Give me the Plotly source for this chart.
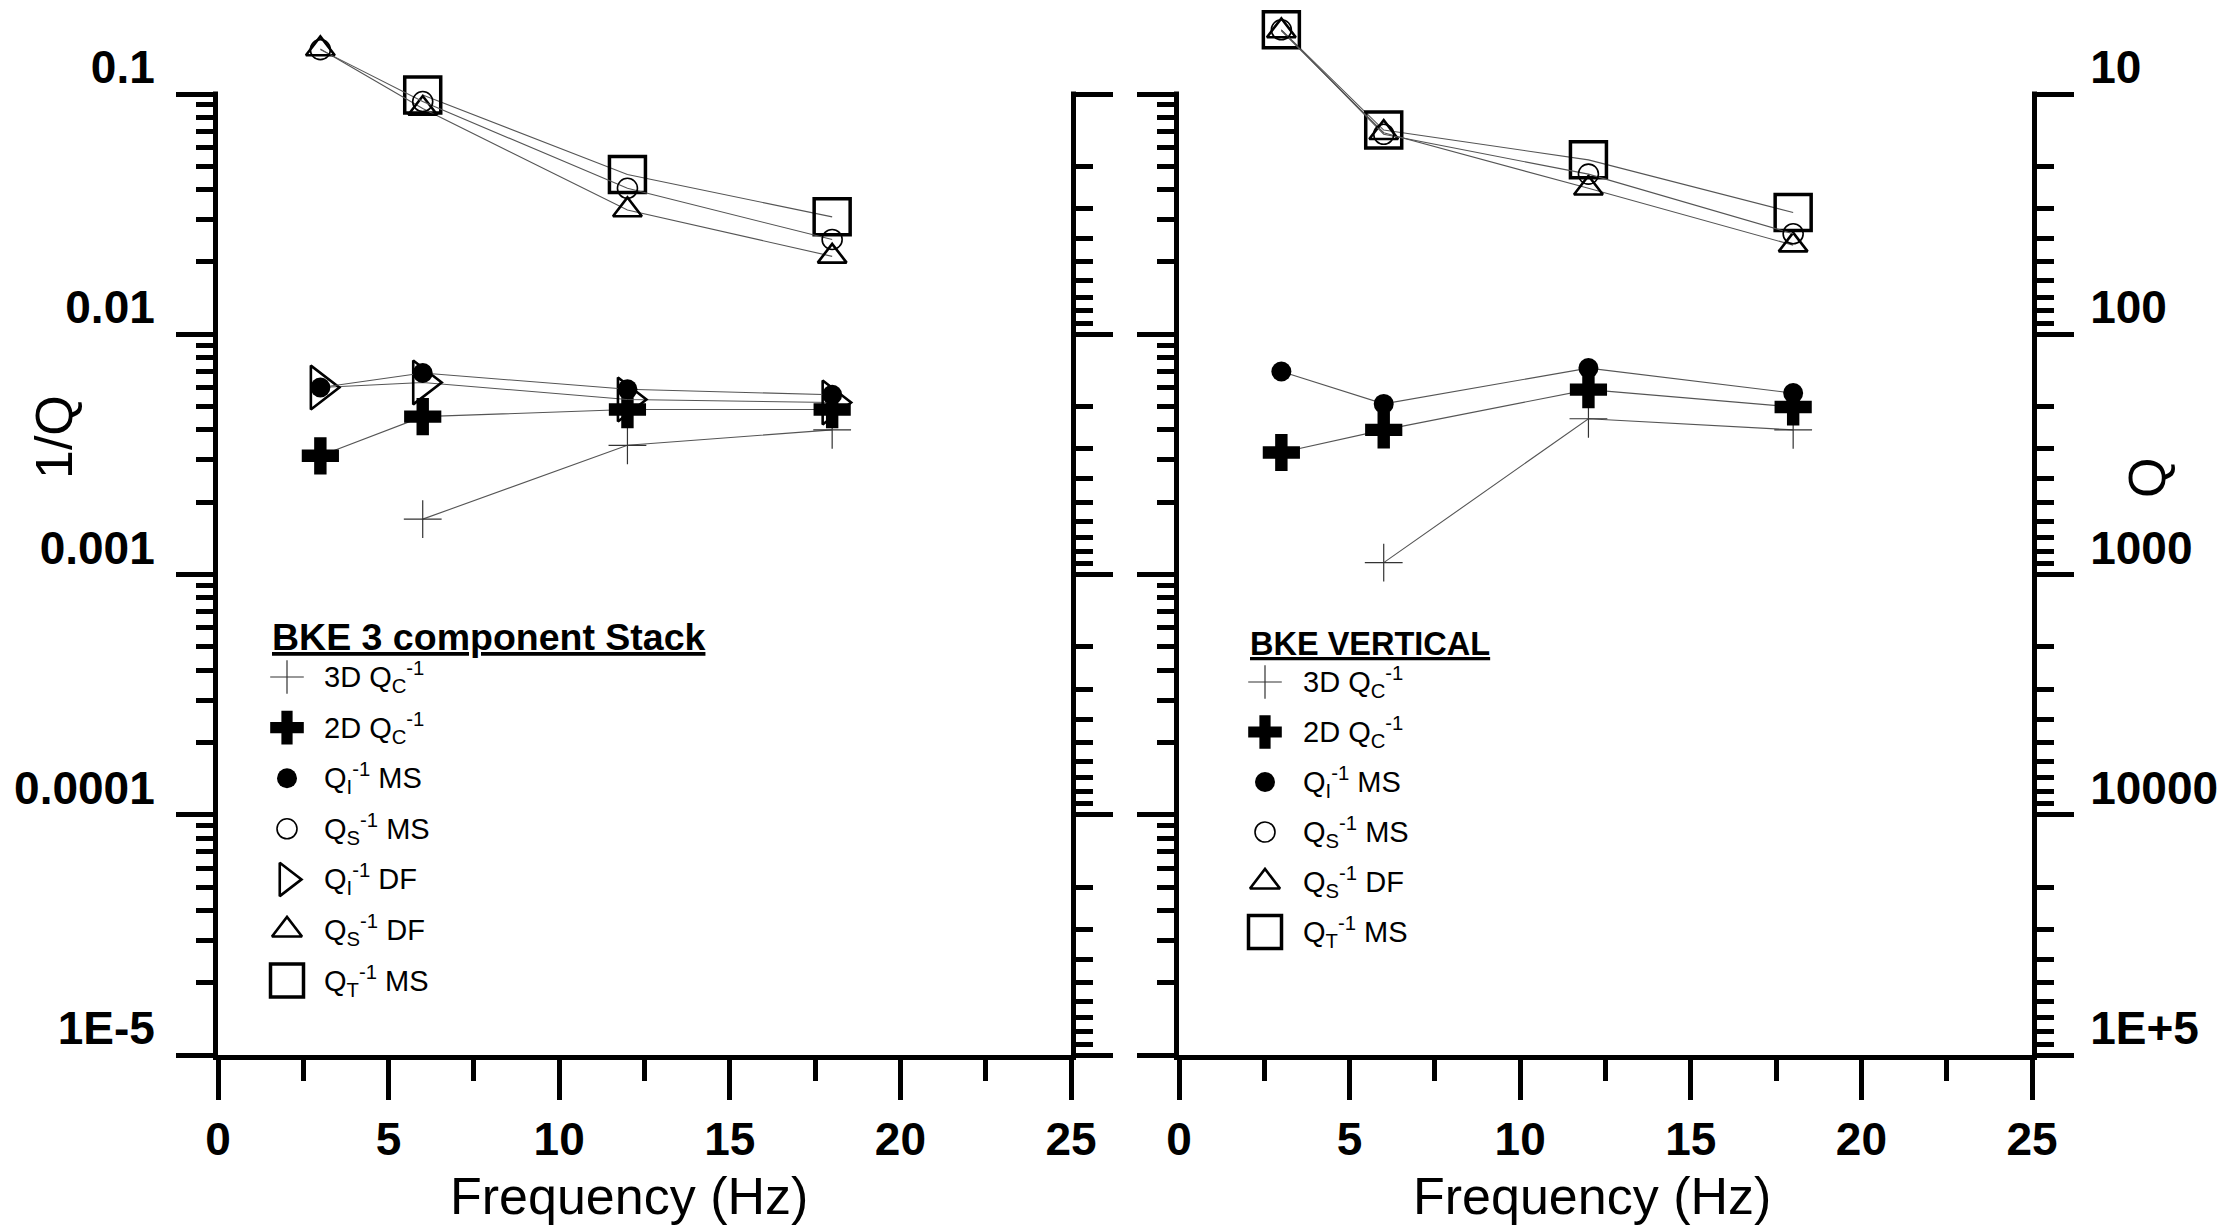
import plotly.graph_objects as go

W, H = 2224, 1226

# ---------------- data ----------------
FREQ = [3, 6, 12, 18]
FREQ_3D = [6, 12, 18]
FREQ_QT_LEFT = [6, 12, 18]

# Left panel: BKE 3 component Stack
L_3D_QC = [0.0017, 0.00345, 0.0040]
L_2D_QC = [0.00312, 0.00454, 0.00486, 0.00486]
L_QI_MS = [0.0060, 0.0069, 0.0059, 0.0056]
L_QS_MS = [0.153, 0.093, 0.0405, 0.0248]
L_QI_DF = [0.0060, 0.0063, 0.00535, 0.0052]
L_QS_DF = [0.154, 0.087, 0.0329, 0.0211]
L_QT_MS = [0.099, 0.0462, 0.0308]

# Right panel: BKE VERTICAL
R_3D_QC = [0.00112, 0.00445, 0.0040]
R_2D_QC = [0.00322, 0.0040, 0.00588, 0.00498]
R_QI_MS = [0.0070, 0.00513, 0.00723, 0.00569]
R_QS_MS = [0.185, 0.068, 0.0464, 0.0262]
R_QS_DF = [0.183, 0.069, 0.0405, 0.0235]
R_QT_MS = [0.185, 0.0708, 0.0532, 0.0321]

X_TICKS = [0, 5, 10, 15, 20, 25]
X_MINOR = [2.5, 7.5, 12.5, 17.5, 22.5]
INVQ_TICKVALS = [1e-5, 1e-4, 1e-3, 1e-2, 1e-1]
INVQ_TICKTEXT = ["1E-5", "0.0001", "0.001", "0.01", "0.1"]
Q_TICKVALS = [10, 100, 1000, 10000, 100000]
Q_TICKTEXT = ["10", "100", "1000", "10000", "1E+5"]

LEFT_TITLE = "BKE 3 component Stack"
RIGHT_TITLE = "BKE VERTICAL"
X_TITLE = "Frequency (Hz)"
Y_TITLE_LEFT = "1/Q"
Y_TITLE_RIGHT = "Q"

LABELS = {
    "3d": "3D Q<sub>C</sub><sup>-1</sup>",
    "2d": "2D Q<sub>C</sub><sup>-1</sup>",
    "qi_ms": "Q<sub>I</sub><sup>-1</sup> MS",
    "qs_ms": "Q<sub>S</sub><sup>-1</sup> MS",
    "qi_df": "Q<sub>I</sub><sup>-1</sup> DF",
    "qs_df": "Q<sub>S</sub><sup>-1</sup> DF",
    "qt_ms": "Q<sub>T</sub><sup>-1</sup> MS",
}

# ---------------- styles / layout constants ----------------
FONT = "Liberation Sans, Arial, sans-serif"
STYLE = {
    "3d": dict(symbol="cross-thin", size=27, color="#333333", lw=1.2),
    "2d": dict(symbol="cross", size=31, color="black", lw=0),
    "qi_ms": dict(symbol="circle", size=20, color="black", lw=0),
    "qs_ms": dict(symbol="circle-open", size=20, color="black", lw=1.6),
    "qi_df": dict(symbol="triangle-right-open", size=38, color="black", lw=2.6),
    "qs_df": dict(symbol="triangle-up-open", size=25, color="black", lw=2.6),
    "qt_ms": dict(symbol="square-open", size=36, color="black", lw=3.5),
}
LEG_SIZE = {"3d": 24, "2d": 28, "qi_ms": 20, "qs_ms": 20, "qi_df": 29, "qs_df": 26, "qt_ms": 33}
LINE_COLOR = "#555555"

# pixel geometry of the panels
PX_TOP, PX_BOT = 94, 1055          # y of 0.1 and 1E-5
EXT = 0.35                          # decades of free space above 0.1 (for the 3 Hz points)
DEC_PX = (PX_BOT - PX_TOP) / 4.0
PX_DOM_TOP = PX_TOP - EXT * DEC_PX
PANELS = [(218, 1071), (1179, 2032)]
LW = 5

fig = go.Figure()


def add_series(xv, yv, key, xa, ya):
    s = STYLE[key]
    fig.add_trace(go.Scatter(
        x=xv, y=yv, xaxis=xa, yaxis=ya, mode="lines+markers",
        line=dict(color=LINE_COLOR, width=1.1),
        marker=dict(symbol=s["symbol"], size=s["size"], color=s["color"],
                    line=dict(color=s["color"], width=s["lw"])),
        cliponaxis=False, showlegend=False, hoverinfo="x+y",
    ))


# left panel
add_series(FREQ_3D, L_3D_QC, "3d", "x", "y")
add_series(FREQ, L_2D_QC, "2d", "x", "y")
add_series(FREQ, L_QI_DF, "qi_df", "x", "y")
add_series(FREQ, L_QI_MS, "qi_ms", "x", "y")
add_series(FREQ_QT_LEFT, L_QT_MS, "qt_ms", "x", "y")
add_series(FREQ, L_QS_DF, "qs_df", "x", "y")
add_series(FREQ, L_QS_MS, "qs_ms", "x", "y")
# right panel
add_series(FREQ_3D, R_3D_QC, "3d", "x2", "y2")
add_series(FREQ, R_2D_QC, "2d", "x2", "y2")
add_series(FREQ, R_QI_MS, "qi_ms", "x2", "y2")
add_series(FREQ, R_QT_MS, "qt_ms", "x2", "y2")
add_series(FREQ, R_QS_DF, "qs_df", "x2", "y2")
add_series(FREQ, R_QS_MS, "qs_ms", "x2", "y2")

# empty traces so that the Q axes get a subplot
for ya, xa in (("y3", "x"), ("y4", "x2")):
    fig.add_trace(go.Scatter(x=[None], y=[None], xaxis=xa, yaxis=ya,
                             showlegend=False, hoverinfo="skip"))

# ---------------- legend keys (overlay axis in pixel units) ----------------
LEGENDS = [
    dict(title=LEFT_TITLE, tx=270, ty=637, tsize=37.5, kx=287, tx_text=322, y0=677, dy=50.6,
         keys=["3d", "2d", "qi_ms", "qs_ms", "qi_df", "qs_df", "qt_ms"]),
    dict(title=RIGHT_TITLE, tx=1248, ty=644, tsize=32.5, kx=1265, tx_text=1301, y0=682, dy=50.0,
         keys=["3d", "2d", "qi_ms", "qs_ms", "qs_df", "qt_ms"]),
]
annotations = []
for lg in LEGENDS:
    annotations.append(dict(
        text="<b><u>" + lg["title"] + "</u></b>", x=lg["tx"] / W, y=1 - lg["ty"] / H,
        xref="paper", yref="paper", xanchor="left", yanchor="middle", showarrow=False,
        font=dict(family=FONT, size=lg["tsize"], color="black")))
    for i, key in enumerate(lg["keys"]):
        yy = lg["y0"] + i * lg["dy"]
        s = STYLE[key]
        fig.add_trace(go.Scatter(
            x=[lg["kx"]], y=[yy], xaxis="x5", yaxis="y5", mode="markers",
            marker=dict(symbol=s["symbol"], size=LEG_SIZE[key], color=s["color"],
                        line=dict(color=s["color"], width=s["lw"])),
            cliponaxis=False, showlegend=False, hoverinfo="skip"))
        annotations.append(dict(
            text=LABELS[key], x=lg["tx_text"] / W, y=1 - yy / H,
            xref="paper", yref="paper", xanchor="left", yanchor="middle", showarrow=False,
            font=dict(family=FONT, size=29, color="black")))

# axis titles
annotations += [
    dict(text=Y_TITLE_LEFT, x=54 / W, y=1 - 437 / H, textangle=-90, xref="paper", yref="paper",
         showarrow=False, xanchor="center", yanchor="middle",
         font=dict(family=FONT, size=52, color="black")),
    dict(text=Y_TITLE_RIGHT, x=2147 / W, y=1 - 478 / H, textangle=-90, xref="paper", yref="paper",
         showarrow=False, xanchor="center", yanchor="middle",
         font=dict(family=FONT, size=52, color="black")),
    dict(text=X_TITLE, x=629 / W, y=1 - 1196 / H, xref="paper", yref="paper",
         showarrow=False, xanchor="center", yanchor="middle",
         font=dict(family=FONT, size=52, color="black")),
    dict(text=X_TITLE, x=1592 / W, y=1 - 1196 / H, xref="paper", yref="paper",
         showarrow=False, xanchor="center", yanchor="middle",
         font=dict(family=FONT, size=52, color="black")),
]

# vertical axis lines (end at the 0.1 / Q=10 tick, the data may go above)
shapes = []
for (xl, xr) in PANELS:
    for xp in (xl - LW / 2, xr + LW / 2):
        shapes.append(dict(type="line", xref="paper", yref="paper",
                           x0=xp / W, x1=xp / W,
                           y0=1 - (PX_BOT + LW) / H, y1=1 - (PX_TOP - LW / 2) / H,
                           line=dict(color="black", width=LW)))

# ---------------- axes ----------------
TICKFONT = dict(family=FONT, size=46, color="black", weight="bold")
YDOM = [1 - PX_BOT / H, 1 - PX_DOM_TOP / H]
INVQ_MINOR = [m * 10.0 ** e for e in range(-5, -1) for m in range(2, 10)]
Q_MINOR = [m * 10.0 ** e for e in range(1, 5) for m in range(2, 10)]


def xcfg(domain, anchor):
    return dict(domain=domain, anchor=anchor, range=[0, 25], tickmode="array", tickvals=X_TICKS,
                ticks="outside", ticklen=40, tickwidth=LW, tickcolor="black",
                showline=True, linewidth=LW, linecolor="black", showgrid=False, zeroline=False,
                tickfont=TICKFONT, ticklabelstandoff=0, fixedrange=True, automargin=False,
                minor=dict(tickmode="array", tickvals=X_MINOR, ticks="outside", ticklen=21,
                           tickwidth=LW, tickcolor="black", showgrid=False))


def ycfg(anchor, labels, q=False, overlaying=None):
    d = dict(anchor=anchor, type="log", ticks="outside", ticklen=41, tickwidth=LW,
             tickcolor="black", showline=False,
             showgrid=False, zeroline=False, tickfont=TICKFONT, fixedrange=True,
             showticklabels=labels, tickmode="array", automargin=False, domain=YDOM)
    if q:
        d.update(range=[5, 1 - EXT], tickvals=Q_TICKVALS, ticktext=Q_TICKTEXT, side="right",
                 ticklabelstandoff=7, ticklabelshift=27,
                 minor=dict(tickmode="array", tickvals=Q_MINOR, ticks="outside", ticklen=21,
                            tickwidth=LW, tickcolor="black", showgrid=False))
    else:
        d.update(range=[-5, -1 + EXT], tickvals=INVQ_TICKVALS, ticktext=INVQ_TICKTEXT,
                 side="left", ticklabelstandoff=12, ticklabelshift=-27,
                 minor=dict(tickmode="array", tickvals=INVQ_MINOR, ticks="outside", ticklen=21,
                            tickwidth=LW, tickcolor="black", showgrid=False))
    if overlaying:
        d["overlaying"] = overlaying
    return d


fig.update_layout(
    template="none",
    width=W, height=H, margin=dict(l=0, r=0, t=0, b=0, pad=0, autoexpand=False),
    paper_bgcolor="white", plot_bgcolor="rgba(0,0,0,0)", showlegend=False,
    xaxis=xcfg([PANELS[0][0] / W, PANELS[0][1] / W], "y"),
    xaxis2=xcfg([PANELS[1][0] / W, PANELS[1][1] / W], "y2"),
    yaxis=ycfg("x", True),
    yaxis2=ycfg("x2", False),
    yaxis3=ycfg("x", False, q=True, overlaying="y"),
    yaxis4=ycfg("x2", True, q=True, overlaying="y2"),
    xaxis5=dict(domain=[0, 1], range=[0, W], visible=False, anchor="y5", fixedrange=True,
                automargin=False),
    yaxis5=dict(domain=[0, 1], range=[H, 0], visible=False, anchor="x5", fixedrange=True,
                automargin=False),
    annotations=annotations,
    shapes=shapes,
    font=dict(family=FONT, color="black"),
)

fig.write_html("out.html")
